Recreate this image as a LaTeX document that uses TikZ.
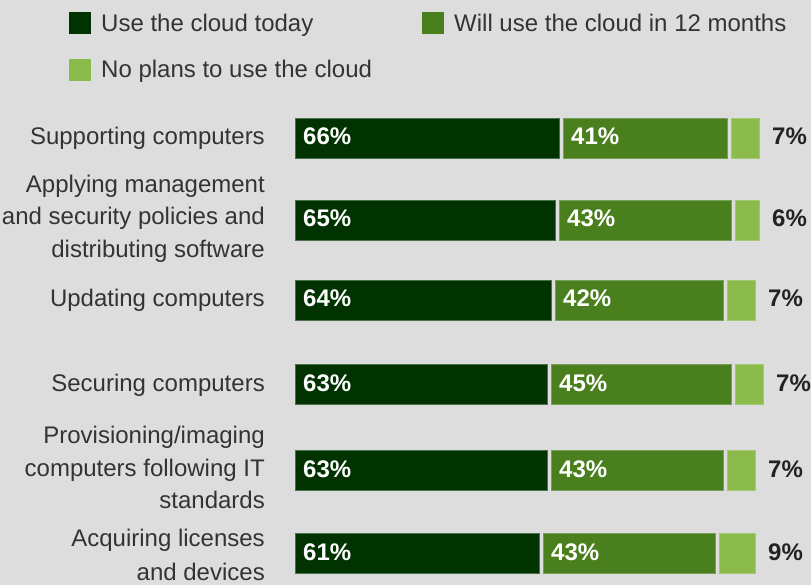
\documentclass[tikz,border=0pt]{standalone}
\usepackage{fontspec}
\setmainfont{Liberation Sans}
\definecolor{bgc}{HTML}{DDDDDD}
\definecolor{txt}{HTML}{333333}
\definecolor{outtxt}{HTML}{222222}
\definecolor{gdark}{HTML}{003300}
\definecolor{gmed}{HTML}{4A7F1D}
\definecolor{glight}{HTML}{8BBB4B}
\tikzset{
  barbase/.style={rectangle, inner sep=0pt, outer sep=0pt, minimum height=40pt, anchor=west, line width=0.8pt},
  bardark/.style={barbase, fill=gdark, draw=gdark!70!white},
  barmed/.style={barbase, fill=gmed, draw=gmed!75!white},
  barlight/.style={barbase, fill=glight, draw=glight!80!white},
  inlab/.style={anchor=base west, inner sep=0pt, text=white, font=\fontsize{24}{28}\selectfont\bfseries},
  outlab/.style={anchor=base west, inner sep=0pt, text=outtxt, font=\fontsize{24}{28}\selectfont\bfseries},
  catlab/.style={anchor=base east, inner sep=0pt, text=txt, font=\fontsize{24}{28}\selectfont},
  leglab/.style={anchor=base west, inner sep=0pt, text=txt, font=\fontsize{24}{28}\selectfont},
  legsq/.style={rectangle, inner sep=0pt, outer sep=0pt, minimum width=22pt, minimum height=22pt, anchor=north west}
}
\begin{document}
\begin{tikzpicture}[x=1pt,y=-1pt]
\fill[bgc] (0,0) rectangle (811,585);
\useasboundingbox (0,0) rectangle (811,585);
% legend
\node[legsq, fill=gdark] (sq1) at (69,12) {};
\node[leglab] (lg1) at (101,31.5) {Use the cloud today};
\node[legsq, fill=gmed] (sq2) at (422,12) {};
\node[leglab] (lg2) at (454,31.5) {Will use the cloud in 12 months};
\node[legsq, fill=glight] (sq3) at (69,59) {};
\node[leglab] (lg3) at (101,77.5) {No plans to use the cloud};
% bars
\foreach \i/\c/\pa/\pb/\pc in {1/138/66/41/7, 2/220/65/43/6, 3/300/64/42/7, 4/384/63/45/7, 5/470/63/43/7, 6/553/61/43/9}{
  \pgfmathsetmacro{\wa}{4*\pa}
  \pgfmathsetmacro{\wb}{4*\pb}
  \pgfmathsetmacro{\wc}{4*\pc}
  \pgfmathsetmacro{\xb}{295+\wa+4}
  \pgfmathsetmacro{\xc}{\xb+\wb+4}
  \pgfmathsetmacro{\xd}{\xc+\wc+13}
  \pgfmathsetmacro{\bl}{\c+7}
  \node[bardark, minimum width=\wa pt] (d\i) at (295,\c) {};
  \node[barmed, minimum width=\wb pt] (m\i) at (\xb,\c) {};
  \node[barlight, minimum width=\wc pt] (l\i) at (\xc,\c) {};
  \node[inlab] (td\i) at (303,\bl) {\pa\%};
  \node[inlab] (tm\i) at (\xb+8,\bl) {\pb\%};
  \node[outlab] (tl\i) at (\xd,\bl) {\pc\%};
}
% category labels
\node[catlab] (c1) at (265,145) {Supporting computers};
\node[catlab] (c2a) at (265,192.3) {Applying management};
\node[catlab] (c2b) at (265,225) {and security policies and};
\node[catlab] (c2c) at (265,257.7) {distributing software};
\node[catlab] (c3) at (265,306) {Updating computers};
\node[catlab] (c4) at (265,391) {Securing computers};
\node[catlab] (c5a) at (265,443) {Provisioning/imaging};
\node[catlab] (c5b) at (265,476) {computers following IT};
\node[catlab] (c5c) at (265,508.7) {standards};
\node[catlab] (c6a) at (265,546.7) {Acquiring licenses};
\node[catlab] (c6b) at (265,580) {and devices};
\end{tikzpicture}
\end{document}
